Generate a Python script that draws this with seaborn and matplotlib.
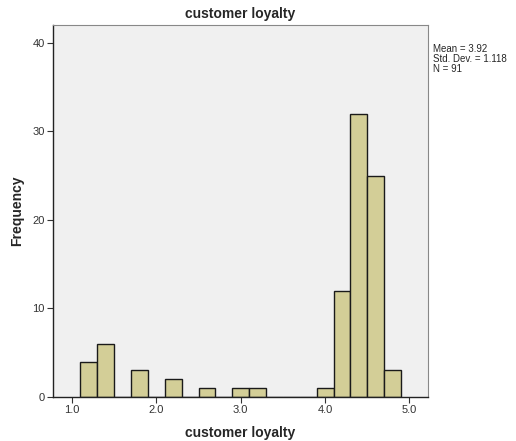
import numpy as np
import pandas as pd
import matplotlib
matplotlib.use("Agg")
import matplotlib.pyplot as plt
import seaborn as sns

bin_centers = [1.2, 1.4, 1.6, 1.8, 2.0, 2.2, 2.4, 2.6, 2.8, 3.0, 3.2, 3.4, 3.6, 3.8, 4.0, 4.2, 4.4, 4.6, 4.8]
frequencies = [4, 6, 0, 3, 0, 2, 0, 1, 0, 1, 1, 0, 0, 0, 1, 12, 32, 25, 3]
bin_edges = [1.1 + 0.2 * i for i in range(20)]
x_ticks = [1.0, 2.0, 3.0, 4.0, 5.0]
y_ticks = [0, 10, 20, 30, 40]
stats_text = "Mean = 3.92\nStd. Dev. = 1.118\nN = 91"

sns.set_style("white")
plt.rcParams['font.family'] = ['Liberation Sans', 'DejaVu Sans']

df = pd.DataFrame({"customer loyalty": bin_centers, "count": frequencies})

fig = plt.figure(figsize=(5.16, 4.41), dpi=100)
ax = fig.add_axes([53/516, 1 - 397/441, (428 - 53)/516, (397 - 25)/441])
ax.set_facecolor("#F0F0F0")

sns.histplot(data=df, x="customer loyalty", weights="count", bins=bin_edges,
             color="#D3CE97", alpha=1.0, edgecolor="#1a1a1a", linewidth=1.0, ax=ax)

ax.set_xlim(0.775, 5.22)
ax.set_ylim(0, 42)
ax.set_xticks(x_ticks)
ax.set_xticklabels([f"{t:.1f}" for t in x_ticks], fontsize=8, color="#333333")
ax.set_yticks(y_ticks)
ax.set_yticklabels([str(t) for t in y_ticks], fontsize=8, color="#333333")
ax.tick_params(axis="both", direction="out", length=4, width=0.8, color="#333333", pad=2,
               bottom=True, left=True)

for s in ["left", "bottom"]:
    ax.spines[s].set_color("#222222")
    ax.spines[s].set_linewidth(1.0)
for s in ["top", "right"]:
    ax.spines[s].set_color("#888888")
    ax.spines[s].set_linewidth(0.8)

ax.set_title("customer loyalty", fontsize=10, fontweight="bold", pad=5)
ax.set_xlabel("customer loyalty", fontsize=10, fontweight="bold", labelpad=8)
ax.set_ylabel("Frequency", fontsize=10, fontweight="bold", labelpad=6)

fig.text(433/516, 1 - 44/441, stats_text, fontsize=7, va="top", ha="left", linespacing=1.0)

fig.savefig("out.png", dpi=100, facecolor="white")
